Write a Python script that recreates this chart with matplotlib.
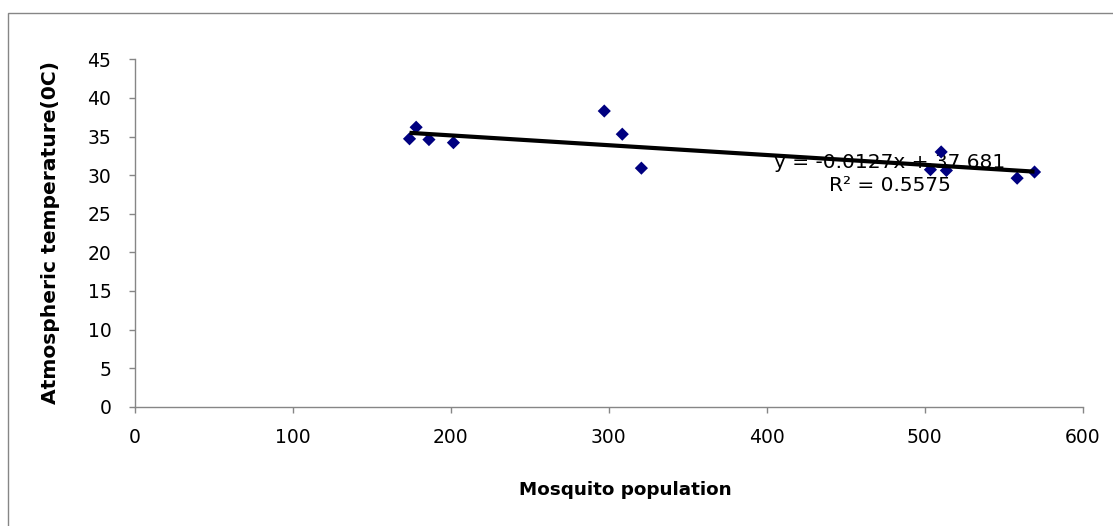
import matplotlib
matplotlib.use("Agg")
import matplotlib.pyplot as plt
import matplotlib.patches as mpatches
import numpy as np

# Data
population = [173.8, 178.0, 186.1, 201.6, 297.1, 308.5, 320.6, 503.6, 510.4, 513.7, 558.5, 569.5]
temperature = [34.7, 36.2, 34.6, 34.2, 38.3, 35.3, 30.9, 30.7, 33.0, 30.6, 29.6, 30.4]
slope = -0.0127
intercept = 37.681
r_squared = 0.5575
x_ticks = [0, 100, 200, 300, 400, 500, 600]
y_ticks = [0, 5, 10, 15, 20, 25, 30, 35, 40, 45]
x_label = "Mosquito population"
y_label = "Atmospheric temperature(0C)"

plt.rcParams['font.family'] = ['DejaVu Sans']

W, H = 1113, 526
fig = plt.figure(figsize=(W / 100, H / 100), dpi=100)
ax = fig.add_axes([135 / W, 1 - 406.7 / H, (1082.7 - 135) / W, (406.7 - 59.3) / H])

grey = '#868686'

# outer chart-area border (open to right and bottom, as cropped)
fig.patches.append(mpatches.Rectangle((8 / W, -0.1), 1.2, 1.1 - 13 / H,
                                      transform=fig.transFigure, fill=False,
                                      edgecolor=grey, linewidth=1.0, clip_on=False))

ax.scatter(population, temperature, marker='D', s=45, color='#000080',
           edgecolors='none', zorder=3)

xs = np.array([min(population), max(population)])
ax.plot(xs, slope * xs + intercept, color='black', linewidth=3.0, zorder=4,
        solid_capstyle='butt')

ax.text(477.7, 30.1, "y = %.4fx + %.3f\nR² = %.4f" % (slope, intercept, r_squared),
        ha='center', va='center', multialignment='center', fontsize=14.5,
        linespacing=1.25, zorder=2)

ax.set_xlim(0, 600)
ax.set_ylim(0, 45)
ax.set_xticks(x_ticks)
ax.set_yticks(y_ticks)

for s in ['top', 'right']:
    ax.spines[s].set_visible(False)
for s in ['left', 'bottom']:
    ax.spines[s].set_color(grey)
    ax.spines[s].set_linewidth(1.0)

ax.tick_params(axis='both', direction='out', length=4.5, width=1.0, color=grey,
               labelsize=13.5, labelcolor='black')
ax.tick_params(axis='x', pad=10.5)
ax.tick_params(axis='y', pad=12.5)

ax.set_xlabel(x_label, fontsize=13.2, fontweight='bold')
ax.set_ylabel(y_label, fontsize=14.6, fontweight='bold')
ax.xaxis.set_label_coords((625 - 135) / (1082.7 - 135), (406.7 - 481) / (406.7 - 59.3))
ax.yaxis.set_label_coords((60 - 135) / (1082.7 - 135), (406.7 - 233) / (406.7 - 59.3))

fig.savefig("out.png", dpi=100, facecolor='white')
